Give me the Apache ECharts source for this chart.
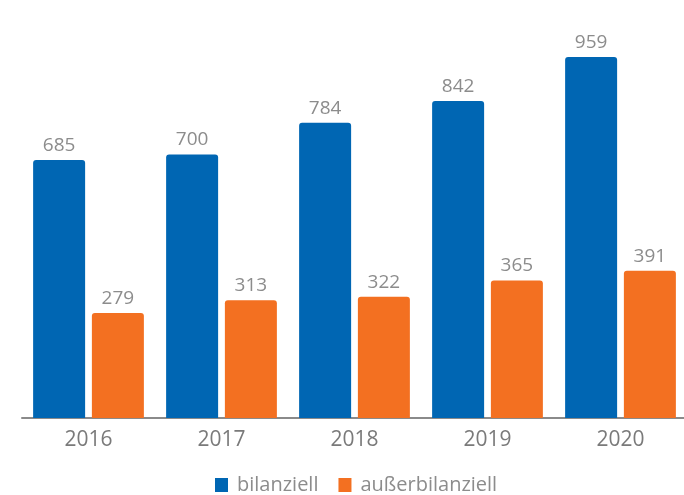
<!DOCTYPE html>
<html>
<head>
<meta charset="utf-8">
<script src="https://cdn.jsdelivr.net/npm/echarts@6/dist/echarts.min.js"></script>
<style>
  html, body { margin: 0; padding: 0; background: #fff; }
  #chart { width: 684px; height: 495px; }
</style>
</head>
<body>
<div id="chart"></div>
<script>
// Jahre und Werte
const years = ["2016", "2017", "2018", "2019", "2020"];
const bilanziell = [685, 700, 784, 842, 959];
const ausserbilanziell = [279, 313, 322, 365, 391];

const chart = echarts.init(document.getElementById("chart"));

const labelStyle = {
  show: true,
  position: "top",
  distance: 5,
  color: "#8c8c8c",
  fontFamily: "Open Sans",
  fontSize: 19,
};

chart.setOption({
  animation: false,
  color: ["#0066b3", "#f37021"],
  legend: {
    left: 210,
    top: 470,
    itemWidth: 13,
    itemHeight: 14,
    itemGap: 20,
    icon: "rect",
    textStyle: {
      color: "#8c8c8c",
      fontFamily: "Open Sans",
      fontSize: 20,
      padding: [0, 0, 0, 4],
    },
    data: ["bilanziell", "außerbilanziell"],
  },
  grid: {
    left: 22,
    right: -3,
    top: 20,
    bottom: 77,
    outerBoundsMode: "none",
  },
  xAxis: {
    type: "category",
    data: years,
    axisTick: { show: false },
    axisLine: { lineStyle: { color: "#8a8a8a", width: 2 } },
    axisLabel: {
      color: "#7a7a7a",
      fontFamily: "Open Sans",
      fontSize: 21,
      margin: 12,
    },
  },
  yAxis: {
    type: "value",
    min: 0,
    max: 1057,
    show: false,
    splitLine: { show: false },
  },
  series: [
    {
      name: "bilanziell",
      type: "bar",
      data: bilanziell,
      barWidth: 52,
      barGap: "13%",
      itemStyle: { borderRadius: [3, 3, 0, 0] },
      label: labelStyle,
    },
    {
      name: "außerbilanziell",
      type: "bar",
      data: ausserbilanziell,
      barWidth: 52,
      itemStyle: { borderRadius: [3, 3, 0, 0] },
      label: labelStyle,
    },
  ],
});
</script>
</body>
</html>
